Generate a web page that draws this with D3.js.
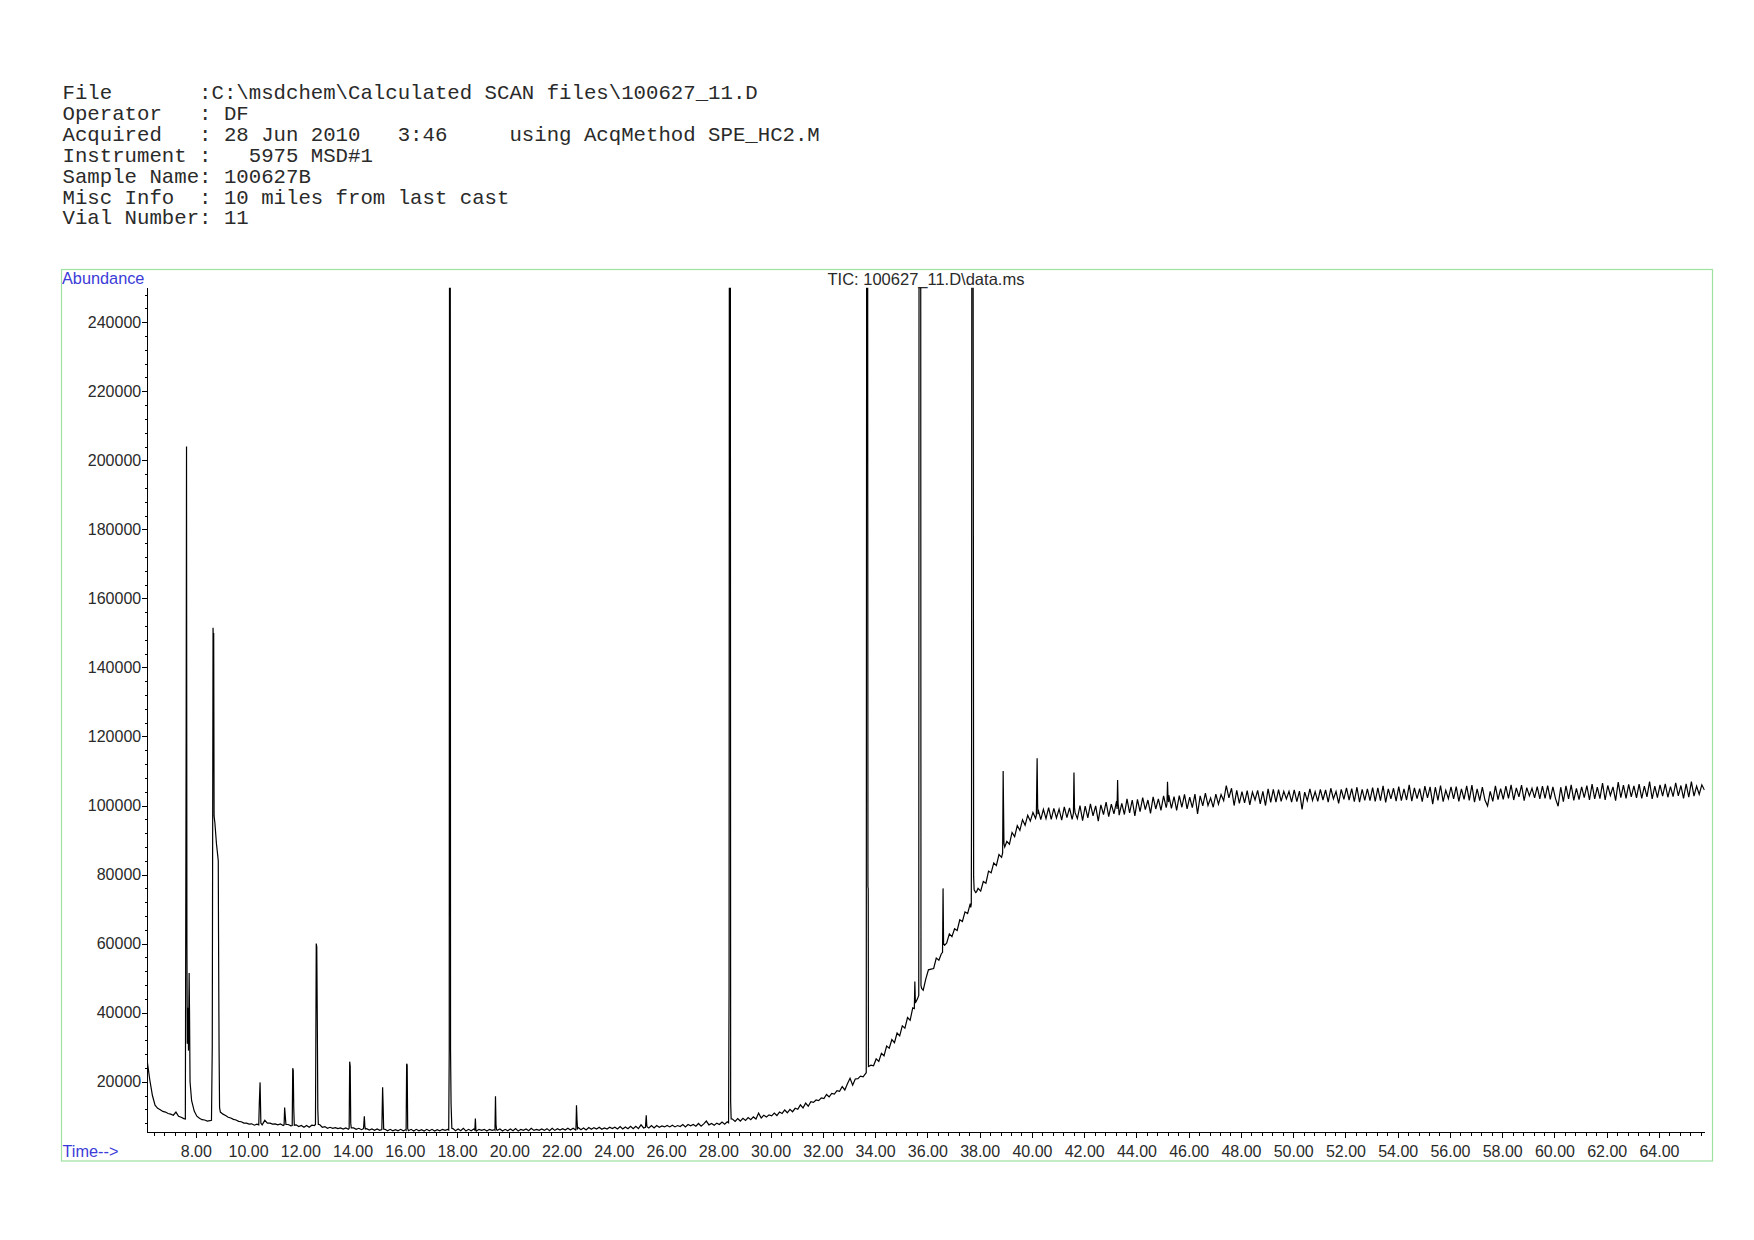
<!DOCTYPE html>
<html>
<head>
<meta charset="utf-8">
<script src="https://cdn.jsdelivr.net/npm/d3@7/dist/d3.min.js"></script>
<style>
	body { margin: 0; background: #fff; }
	text { white-space: pre; }
</style>
</head>
<body>
<script>
// page size
var width = 1754,
	height = 1240;

// report header, printed as is
var headerLines = [
	'File       :C:\\msdchem\\Calculated SCAN files\\100627_11.D',
	'Operator   : DF',
	'Acquired   : 28 Jun 2010   3:46     using AcqMethod SPE_HC2.M',
	'Instrument :   5975 MSD#1',
	'Sample Name: 100627B',
	'Misc Info  : 10 miles from last cast',
	'Vial Number: 11'
];

var chartTitle = 'TIC: 100627_11.D\\data.ms';

// tick labels
var yTickLabels = [20000, 40000, 60000, 80000, 100000, 120000, 140000, 160000, 180000, 200000, 220000, 240000];
var xTickLabels = ['8.00', '10.00', '12.00', '14.00', '16.00', '18.00', '20.00', '22.00', '24.00', '26.00',
	'28.00', '30.00', '32.00', '34.00', '36.00', '38.00', '40.00', '42.00', '44.00', '46.00', '48.00',
	'50.00', '52.00', '54.00', '56.00', '58.00', '60.00', '62.00', '64.00'];

// run limits (min) and abundance limits
var timeRange = [6.14, 65.75];
var abundanceRange = [5430, 250000];

// baseline scans, abundance in thousands, one reading every 0.1 min
// null = scan hidden under a peak listed below
var scanStep = 0.1;

var scansEarlyStart = 6.14;
var scansEarly = [
	26.0, 20.5, 16.0, 13.2, 12.3, 11.9, 11.4, 11.2, 10.8, 10.6,
	10.3, 11.2, 10.0, 9.7, 9.3, null, null, 14.5, 11.5, 10.0,
	9.4, 9.0, 8.9, 8.6, 8.7, null, null, null, 11.2, 10.6,
	10.2, 9.7, 9.5, 9.1, 8.9, 8.5, 8.4, 8.0, 8.0, 7.7,
	7.8, 7.4, 7.7, null, 7.5, 8.8, 8.0, 8.0, 7.7, 7.8,
	7.5, 7.8, 7.3, null, 7.6, 7.2, null, 7.5, 7.0, 7.3,
	6.8, 7.3, 6.8, 7.4, 7.3, null, 7.6, 6.8, 7.0, 6.5,
	6.8, 6.5, 6.7, 6.4, 6.6, 6.3, 6.6, 6.2, null, 6.6,
	6.2, 6.5, 6.1, null, 6.4, 6.0, 6.3, 5.9, 6.3, 5.9,
	null, 6.2, 5.8, 6.2, 5.8, 6.1, 5.8, 6.2, 5.8, 6.1,
	5.8, 6.2, 5.7, 6.2, 5.8, 6.1, 5.7, 6.2, 5.8, 6.2,
	5.7, 6.1, 5.8, 6.2, 5.9, 6.2, null, 6.4, 5.8, 6.3,
	5.8, 6.5, 5.7, 6.2, 5.8, 6.3, 5.7, 6.2, 5.9, 6.2,
	5.7, 6.2, 5.9, 6.1, 5.9, 6.3, 5.7, 6.2, 5.8, 6.3,
	5.8, 6.4, 5.7, 6.2, 5.9, 6.3, 5.8, 6.5, 5.9, 6.2,
	5.9, 6.3, 5.9, 6.4, 5.8, 6.5, 5.9, 6.4, 6.0, 6.4,
	6.0, 6.5, 6.0, 6.5, 6.0, 6.7, 6.1, 6.6, 6.0, 6.7,
	6.2, 6.7, 6.3, 6.8, 6.2, 6.6, 6.3, 6.8, 6.4, 6.8,
	6.3, 7.0, 6.3, 6.9, 6.4, 7.1, 6.4, 7.1, 6.4, 7.5,
	6.6, null, 6.6, 7.3, 6.6, 7.3, 6.8, 7.2, 6.9, 7.3
];

var scansMidStart = 26.14;
var scansMid = [
	6.9, 7.4, 6.9, 7.3, 7.0, 7.6, 6.9, 7.6, 7.2, 7.6,
	7.1, 7.9, 7.1, 7.8, 8.6, 7.5, 7.9, 7.4, 8.0, 7.6,
	8.3, 7.7, 8.4, null, 9.2, 8.5, 9.3, 8.6, 9.4, 8.8,
	9.6, 9.0, 9.8, 9.2, 10.9, 9.5, 10.3, 9.8, 10.4, 10.1,
	10.9, 10.2, 11.2, 10.8, 11.8, 11.0, 12.0, 11.3, 12.3, 12.0,
	13.3, 12.4, 13.8, 12.9, 14.2, 14.0, 14.7, 14.5, 15.3, 15.1,
	16.3, 15.6, 16.6, 16.4, 17.4, 17.2, 18.6, 17.6, 19.4, 21.0,
	19.0, 20.8, 20.9, 21.6, 21.4, 22.4, null, 24.8, 24.6, 26.6,
	25.9, 28.2, 27.5, 30.3, 29.7, 32.2, 31.3, 34.1, 33.3, 36.2,
	35.5, 38.6, 37.8, 41.4, null, null, null, 46.5, 49.8, 52.4,
	52.6, 52.8, 55.8, 55.2, null, null, 60.2, 62.8, 62.0, 64.3,
	63.8, 66.9, 66.4, 69.2, 68.7, 71.6, null, null, 76.0, 75.2,
	78.0, 77.5, 81.0, 80.5, 83.4, 82.6, 85.8, 85.0, null, 89.6,
	88.8, 92.2, 91.0, 94.2, 92.8, 95.9, 94.3, 97.2, 95.5, 98.0,
	96.3, 98.8, 95.9, 98.9, 96.2, 99.4, 96.0, 99.2, 96.4, 99.0,
	95.8, 99.6, 96.5, 99.3, 96.0, null, 96.2, 100.0, 95.6, 99.8,
	96.4, 100.5, 97.0, 99.9, 95.5, 100.2, 97.4, 101.0, 96.8, 100.4,
	97.6, 101.3, 97.2, 100.6, 97.4, 101.9, 97.9, 101.6, 97.0, 101.8,
	98.2, 102.3, 98.8, 101.6, 97.7, 102.5, 99.0, 101.9, 98.6, 102.8,
	99.4, 103.0, 99.2, 102.6, 98.6, 102.9, 99.5, 103.2, 99.0, 102.4
];

var scansLateStart = 46.14;
var scansLate = [
	99.4, 103.3, 97.6, 102.8, 99.9, 103.6, 100.0, 102.2, 99.5, 103.3,
	100.4, 103.2, 101.4, 105.8, 102.2, 105.0, 100.0, 104.4, 100.6, 104.0,
	100.8, 104.3, 100.2, 103.9, 101.6, 104.4, 100.5, 104.1, 100.0, 104.8,
	100.9, 104.7, 101.0, 104.6, 101.2, 104.1, 101.9, 104.1, 101.0, 104.5,
	101.1, 104.2, 98.9, 103.9, 101.4, 104.8, 101.5, 104.0, 101.2, 104.7,
	101.6, 104.5, 101.0, 105.0, 101.9, 104.1, 100.6, 104.7, 101.8, 105.1,
	101.6, 104.9, 101.1, 105.3, 101.0, 104.7, 101.5, 104.8, 101.4, 105.2,
	101.2, 105.1, 101.4, 105.7, 100.9, 104.8, 101.9, 105.0, 101.3, 105.5,
	101.4, 104.8, 101.6, 106.0, 101.3, 105.1, 102.0, 104.9, 101.1, 105.6,
	102.2, 105.4, 100.4, 105.3, 101.5, 105.8, 101.1, 104.4, 102.0, 105.4,
	101.9, 105.5, 101.2, 104.8, 101.8, 105.7, 101.5, 105.9, 101.0, 104.8,
	101.4, 105.3, 101.6, 99.9, 104.1, 101.2, 105.7, 101.7, 104.9, 101.8,
	105.6, 102.1, 106.0, 101.6, 105.1, 102.5, 105.9, 101.4, 105.2, 102.8,
	105.0, 102.2, 105.5, 101.9, 105.6, 102.1, 105.8, 101.8, 105.4, 102.0,
	99.8, 105.3, 101.1, 105.7, 101.9, 106.0, 101.5, 105.0, 101.7, 105.4,
	102.3, 105.8, 101.6, 106.2, 101.9, 105.3, 102.0, 106.5, 101.6, 105.8,
	102.9, 105.4, 101.4, 106.8, 102.3, 105.9, 102.1, 106.1, 102.5, 105.7,
	102.2, 106.2, 102.1, 105.6, 102.5, 106.9, 101.9, 105.6, 102.3, 106.0,
	102.7, 106.3, 102.4, 105.5, 102.6, 106.6, 102.8, 105.8, 102.1, 106.3,
	102.4, 106.9, 102.7, 105.6, 103.2, 106.0, 104.5
];

// peaks: [time (min), abundance (thousands)], 260 = off scale
var peaks = [
	[[7.60, 9.2], [7.63, 120], [7.645, 204], [7.66, 60], [7.675, 31], [7.70, 41.4], [7.72, 29], [7.745, 51.5], [7.76, 40], [7.78, 20]],
	[[8.60, 8.8], [8.63, 30], [8.66, 151.5], [8.675, 146], [8.685, 150], [8.70, 97], [8.73, 95], [8.79, 89], [8.84, 85.5], [8.86, 84], [8.87, 63], [8.89, 30], [8.91, 12.5]],
	[[10.41, 7.5], [10.43, 13.5], [10.46, 19.8], [10.475, 14], [10.49, 8.0]],
	[[11.38, 7.5], [11.40, 12.5], [11.42, 10.5], [11.45, 7.6]],
	[[11.69, 7.3], [11.71, 23.9], [11.73, 23.2], [11.75, 12], [11.77, 7.4]],
	[[12.58, 7.6], [12.60, 42], [12.61, 60], [12.63, 59], [12.65, 38], [12.67, 12], [12.69, 7.6]],
	[[13.87, 6.5], [13.89, 25.8], [13.91, 24.5], [13.93, 8], [13.95, 6.6]],
	[[14.42, 6.4], [14.45, 10.0], [14.47, 7.2], [14.49, 6.3]],
	[[15.12, 6.1], [15.15, 18.4], [15.17, 13], [15.19, 6.3]],
	[[16.05, 6.0], [16.07, 25.2], [16.09, 24.8], [16.11, 6.4]],
	[[17.68, 6.0], [17.70, 29.2], [17.71, 260], [17.74, 260], [17.75, 29], [17.77, 13.6], [17.80, 6.5]],
	[[18.68, 6.0], [18.70, 9.3], [18.72, 6.1]],
	[[19.45, 6.0], [19.47, 15.8], [19.49, 7.5], [19.51, 6.1]],
	[[22.55, 6.3], [22.57, 13.2], [22.59, 9], [22.61, 6.4]],
	[[25.21, 6.8], [25.24, 10.3], [25.26, 7.3], [25.28, 6.9]],
	[[28.39, 8.1], [28.41, 46.6], [28.42, 260], [28.46, 260], [28.47, 14.2], [28.49, 9.2]],
	[[33.66, 22.6], [33.675, 260], [33.715, 260], [33.725, 76.4], [33.735, 76], [33.745, 24.4]],
	[[35.50, 41.2], [35.52, 49.0], [35.54, 42.8], [35.62, 44.0], [35.67, 45], [35.68, 260], [35.745, 260], [35.755, 47.8], [35.78, 47.0]],
	[[36.53, 57.0], [36.58, 57.5], [36.60, 76.0], [36.62, 60.0], [36.66, 59.5]],
	[[37.66, 70.5], [37.68, 71.5], [37.69, 99.2], [37.70, 260], [37.75, 260], [37.76, 178], [37.77, 79.4], [37.79, 75.6], [37.85, 74.8], [37.88, 75.0]],
	[[38.88, 86.3], [38.90, 110.0], [38.92, 96], [38.93, 89], [38.96, 88.0]],
	[[40.17, 97.2], [40.20, 113.7], [40.22, 100], [40.23, 97.5]],
	[[41.59, 97.8], [41.61, 109.6], [41.63, 99.5], [41.65, 98.0]],
	[[43.26, 99.0], [43.28, 107.4], [43.30, 100.5], [43.32, 99.3]],
	[[45.17, 100.5], [45.19, 106.9], [45.21, 102.5], [45.23, 101.0]]
];

// build the trace: scans plus peak points, sorted by time
var trace = [];

function addScans(start, values) {
	values.forEach(function(v, i) {
		var t = start + i * scanStep;
		if (v === null) return;
		// skip any scan that sits inside a peak
		var inside = peaks.some(function(p) { return t >= p[0][0] && t <= p[p.length - 1][0]; });
		if (!inside) trace.push([t, v]);
	});
}

addScans(scansEarlyStart, scansEarly);
addScans(scansMidStart, scansMid);
addScans(scansLateStart, scansLate);
peaks.forEach(function(p) { p.forEach(function(d) { trace.push(d); }); });
trace.sort(function(a, b) { return a[0] - b[0]; });

// plot box
var frame = { left: 61.5, top: 269.5, right: 1712.5, bottom: 1161 };
var plotLeft = 147.2, plotRight = 1704.7,
	plotTop = 287.7, plotBottom = 1132;

var x = d3.scaleLinear().domain(timeRange).range([plotLeft, plotRight]);
var y = d3.scaleLinear().domain(abundanceRange).range([plotBottom, plotTop]);

var svg = d3.select('body')
	.append('svg')
	.attr('width', width)
	.attr('height', height)
	.style('font-family', '"Liberation Sans", Arial, sans-serif');

svg.append('rect')
	.attr('width', width)
	.attr('height', height)
	.attr('fill', '#fff');

// header block
svg.append('g')
	.selectAll('text')
	.data(headerLines)
	.enter().append('text')
	.attr('x', 62.5)
	.attr('y', function(d, i) { return 99 + i * 20.9; })
	.attr('xml:space', 'preserve')
	.style('font-family', '"Liberation Mono", "Courier New", monospace')
	.style('font-size', '20.7px')
	.attr('fill', '#2a2a2a')
	.text(function(d) { return d; });

// green frame round the plot
svg.append('rect')
	.attr('x', frame.left)
	.attr('y', frame.top)
	.attr('width', frame.right - frame.left)
	.attr('height', frame.bottom - frame.top)
	.attr('fill', 'none')
	.attr('stroke', '#9fe29f')
	.attr('stroke-width', 1.2);

svg.append('text')
	.attr('x', 62)
	.attr('y', 284)
	.attr('fill', '#3b3bd8')
	.style('font-size', '16.3px')
	.text('Abundance');

svg.append('text')
	.attr('x', 62.5)
	.attr('y', 1157)
	.attr('fill', '#3b3bd8')
	.style('font-size', '16.3px')
	.text('Time-->');

svg.append('text')
	.attr('x', (plotLeft + plotRight) / 2)
	.attr('y', 285)
	.attr('text-anchor', 'middle')
	.attr('fill', '#2a2a2a')
	.style('font-size', '16.5px')
	.text(chartTitle);

// y axis, minor ticks first
var yMinor = d3.range(8000, abundanceRange[1], 4000)
	.filter(function(d) { return d % 20000 !== 0; });

svg.append('g')
	.attr('transform', 'translate(' + plotLeft + ',0)')
	.call(d3.axisLeft(y).tickValues(yMinor).tickSize(2.5).tickFormat(''))
	.call(function(g) { g.select('.domain').remove(); });

var yAxis = svg.append('g')
	.attr('transform', 'translate(' + plotLeft + ',0)')
	.call(d3.axisLeft(y).tickValues(yTickLabels).tickSize(5).tickSizeOuter(0).tickPadding(1).tickFormat(d3.format('d')));

yAxis.selectAll('text')
	.attr('fill', '#2a2a2a')
	.style('font-size', '16px')
	.style('font-family', '"Liberation Sans", Arial, sans-serif');

// x axis, minor ticks every 0.4 min
var xMinor = d3.range(6.4, timeRange[1], 0.4)
	.filter(function(d) { return Math.abs(d / 2 - Math.round(d / 2)) > 0.01; });

svg.append('g')
	.attr('transform', 'translate(0,' + plotBottom + ')')
	.call(d3.axisBottom(x).tickValues(xMinor).tickSize(4).tickFormat(''))
	.call(function(g) { g.select('.domain').remove(); });

var xAxis = svg.append('g')
	.attr('transform', 'translate(0,' + plotBottom + ')')
	.call(d3.axisBottom(x).tickValues(xTickLabels.map(Number)).tickSize(6).tickSizeOuter(0)
		.tickFormat(function(d, i) { return xTickLabels[i]; }));

xAxis.selectAll('text')
	.attr('y', 25)
	.attr('dy', 0)
	.attr('fill', '#2a2a2a')
	.style('font-size', '16px')
	.style('font-family', '"Liberation Sans", Arial, sans-serif');

svg.selectAll('.domain, .tick line')
	.attr('stroke', '#000')
	.attr('shape-rendering', 'crispEdges');

// clip peaks at the top of the scale
svg.append('clipPath')
	.attr('id', 'plot-clip')
	.append('rect')
	.attr('x', plotLeft)
	.attr('y', plotTop)
	.attr('width', plotRight - plotLeft)
	.attr('height', plotBottom - plotTop);

var line = d3.line()
	.x(function(d) { return x(d[0]); })
	.y(function(d) { return y(d[1] * 1000); });

svg.append('path')
	.datum(trace)
	.attr('clip-path', 'url(#plot-clip)')
	.attr('fill', 'none')
	.attr('stroke', '#000')
	.attr('stroke-width', 1.2)
	.attr('d', line);
</script>
</body>
</html>
